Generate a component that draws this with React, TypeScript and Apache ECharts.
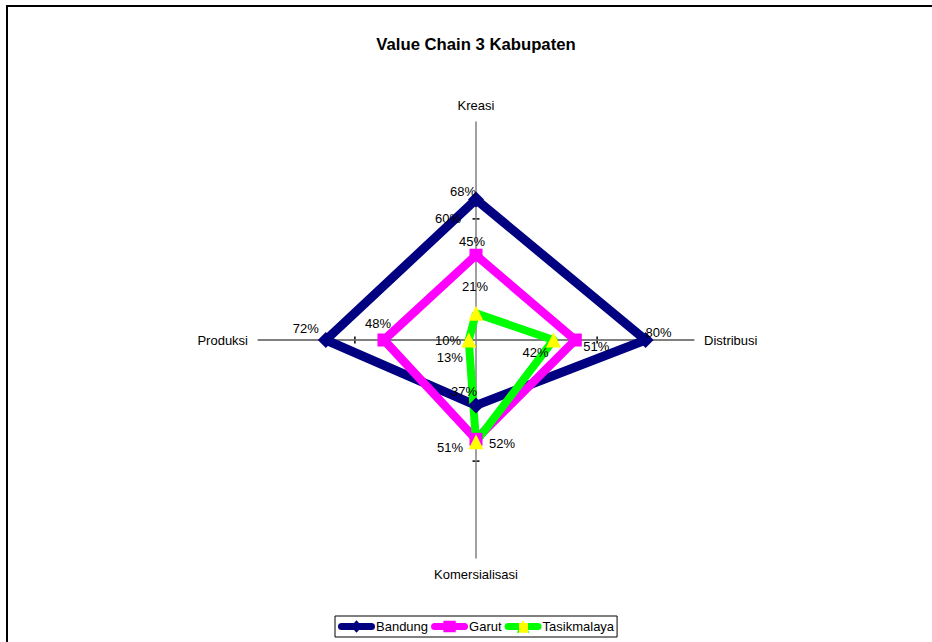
import React, { useEffect, useRef } from "react";
import * as echarts from "echarts";

// ---- data (clockwise from top) ----
const categories = ["Kreasi", "Distribusi", "Komersialisasi", "Produksi"];
const seriesNames = ["Bandung", "Garut", "Tasikmalaya"];
const bandung = [68, 80, 37, 72];
const garut = [45, 51, 51, 48];
const tasikmalaya = [21, 42, 52, 13];
const axisTickValues = [10, 60];
const axisMin = 10;
const axisMax = 100;

// ---- styles ----
const lineColors = ["#000080", "#FF00FF", "#00FF00"];
const markerColors = ["#000080", "#FF00FF", "#FFFF00"];
const markerShapes = ["diamond", "rect", "triangle"];
const markerSizes = [16, 13, 15];
const lineWidths = [9, 8.5, 8];
// label offsets [dx, dy] per series, per category (clockwise order)
const labelOffsets = [
  [[-13, -8], [13, -8], [-12, -14], [-20, -12]],
  [[-4, -14], [21, 6], [-26, 8], [-6, -17]],
  [[-1, -27], [-18, 12], [26, 2], [-19, 17]],
];

const CX = 476;
const CY = 340;
const R = 218;
const FONT = "'Liberation Sans', Arial, sans-serif";
// ECharts radar places indicators counter-clockwise; reorder clockwise data
const radarOrder = [0, 3, 2, 1];

const SENTINEL = axisMin;

function legendIcon(kind: string) {
  const line = "M4 3 L33 3 A3.5 3.5 0 0 1 33 10 L4 10 A3.5 3.5 0 0 1 4 3 Z ";
  if (kind === "diamond") return "path://" + line + "M18.5 0.5 L24 6.5 L18.5 12.5 L13 6.5 Z";
  if (kind === "rect") return "path://" + line + "M12.5 1 L24.5 1 L24.5 12 L12.5 12 Z";
  return "path://" + line + "M18.5 0.5 L24.5 12.5 L12.5 12.5 Z";
}

export default function App() {
  const ref = useRef<HTMLDivElement>(null);
  useEffect(() => {
    if (!ref.current) return;
    const chart = echarts.init(ref.current, undefined, { renderer: "svg" });
    const all = [bandung, garut, tasikmalaya];
    const reorder = (arr: number[]) => radarOrder.map((i) => arr[i]);

    const mainData = all.map((vals, s) => ({
      name: seriesNames[s],
      value: reorder(vals),
      symbol: markerShapes[s],
      symbolSize: markerSizes[s],
      itemStyle: { color: markerColors[s] },
      lineStyle: { color: lineColors[s], width: lineWidths[s], join: "round" as const },
    }));

    const labelData: any[] = [];
    all.forEach((vals, s) => {
      vals.forEach((v, j) => {
        const arr = categories.map((_, k) => (k === j ? v : SENTINEL));
        labelData.push({
          name: "__lbl_" + s + "_" + j,
          value: reorder(arr),
          label: {
            show: true,
            position: "inside",
            offset: labelOffsets[s][j],
            color: "#000",
            fontSize: 13,
            fontFamily: FONT,
            formatter: (p: any) => (p.value === SENTINEL ? "" : p.value + "%"),
          },
        });
      });
    });

    const frac = (v: number) => (v - axisMin) / (axisMax - axisMin);
    const graphics: any[] = [
      {
        type: "rect",
        shape: { x: 7, y: 6, width: 2000, height: 2000 },
        style: { fill: "none", stroke: "#000", lineWidth: 2 },
        silent: true,
        z: 0,
      },
      {
        type: "line",
        shape: { x1: CX - R, y1: CY, x2: CX + R, y2: CY },
        style: { stroke: "#000", lineWidth: 1 },
        silent: true,
        z: 0,
      },
    ];
    axisTickValues.forEach((t) => {
      const d = R * frac(t);
      if (d > 0) {
        const L = 3.5;
        graphics.push(
          { type: "line", shape: { x1: CX - L, y1: CY - d, x2: CX + L, y2: CY - d }, style: { stroke: "#000", lineWidth: 1.5 }, z: 0, silent: true },
          { type: "line", shape: { x1: CX - L, y1: CY + d, x2: CX + L, y2: CY + d }, style: { stroke: "#000", lineWidth: 1.5 }, z: 0, silent: true },
          { type: "line", shape: { x1: CX - d, y1: CY - L, x2: CX - d, y2: CY + L }, style: { stroke: "#000", lineWidth: 1.5 }, z: 0, silent: true },
          { type: "line", shape: { x1: CX + d, y1: CY - L, x2: CX + d, y2: CY + L }, style: { stroke: "#000", lineWidth: 1.5 }, z: 0, silent: true }
        );
      }
      graphics.push({
        type: "text",
        x: CX - 15,
        y: CY - d,
        z: 100,
        silent: true,
        style: {
          text: t + "%",
          fill: "#000",
          font: "13px " + FONT,
          align: "right",
          verticalAlign: "middle",
        },
      });
    });

    const tasikLegendColor = new echarts.graphic.LinearGradient(0, 0, 1, 0, [
      { offset: 0, color: "#00FF00" },
      { offset: 0.38, color: "#00FF00" },
      { offset: 0.38, color: "#FFFF00" },
      { offset: 0.63, color: "#FFFF00" },
      { offset: 0.63, color: "#00FF00" },
      { offset: 1, color: "#00FF00" },
    ]);

    chart.setOption({
      animation: false,
      backgroundColor: "#fff",
      title: {
        text: "Value Chain 3 Kabupaten",
        left: CX - 5,
        textAlign: "center",
        top: 31,
        textStyle: { fontSize: 16.7, fontWeight: "bold", color: "#000", fontFamily: FONT },
      },
      legend: {
        bottom: 5,
        left: 335,
        orient: "horizontal",
        itemWidth: 37,
        itemHeight: 13,
        itemGap: 3,
        padding: [4, 3],
        borderColor: "#000",
        borderWidth: 1,
        selectedMode: false,
        textStyle: { fontSize: 13, color: "#000", fontFamily: FONT, padding: [0, 0, 0, -4] },
        data: seriesNames.map((n, s) => ({
          name: n,
          icon: legendIcon(markerShapes[s]),
          itemStyle: { color: s === 2 ? tasikLegendColor : lineColors[s] },
        })),
      },
      radar: {
        center: [CX, CY],
        radius: R,
        startAngle: 90,
        shape: "polygon",
        nameGap: 10,
        axisName: { color: "#000", fontSize: 13, fontFamily: FONT },
        indicator: radarOrder.map((i) => ({ name: categories[i], min: axisMin, max: axisMax })),
        axisLine: { show: true, lineStyle: { color: "#808080", width: 1.5 } },
        splitLine: { show: false },
        splitArea: { show: false },
        axisTick: { show: false },
        axisLabel: { show: false },
      },
      graphic: graphics,
      series: [
        {
          type: "radar",
          z: 2,
          silent: true,
          data: mainData,
        },
        {
          type: "radar",
          name: "__labels",
          z: 5,
          silent: true,
          symbol: "circle",
          symbolSize: 1,
          itemStyle: { color: "rgba(0,0,0,0)" },
          lineStyle: { width: 0, opacity: 0 },
          data: labelData,
        },
      ],
    });
    return () => chart.dispose();
  }, []);
  return (
    <div
      ref={ref}
      style={{ position: "absolute", left: 0, top: 0, width: 932, height: 642, background: "#fff" }}
    />
  );
}
